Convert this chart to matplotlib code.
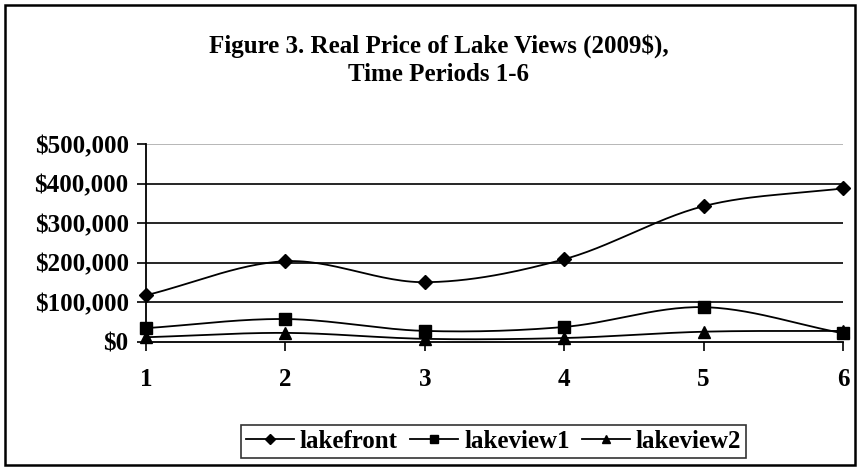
import numpy as np
import matplotlib
matplotlib.use("Agg")
import matplotlib.pyplot as plt
from matplotlib.patches import Rectangle
from matplotlib.ticker import FuncFormatter

plt.rcParams['font.family'] = ['Liberation Serif', 'DejaVu Serif']
plt.rcParams['font.weight'] = 'bold'

periods = [1, 2, 3, 4, 5, 6]
lakefront = [118000, 204000, 151000, 209000, 343000, 388000]
lakeview1 = [35000, 58000, 28000, 38000, 88000, 22000]
lakeview2 = [12000, 23000, 8000, 10000, 26000, 28000]
series_names = ["lakefront", "lakeview1", "lakeview2"]
markers = ["D", "s", "^"]
y_ticks = [0, 100000, 200000, 300000, 400000, 500000]


# smoothed line like a spreadsheet "smoothed line" option (Catmull-Rom)
def smooth(xs, ys, n=30):
    xs = np.asarray(xs, float)
    ys = np.asarray(ys, float)
    px = np.concatenate([[2 * xs[0] - xs[1]], xs, [2 * xs[-1] - xs[-2]]])
    py = np.concatenate([[2 * ys[0] - ys[1]], ys, [2 * ys[-1] - ys[-2]]])
    ox, oy = [], []
    for i in range(1, len(px) - 2):
        t = np.linspace(0, 1, n, endpoint=False)
        for p, out in ((px, ox), (py, oy)):
            p0, p1, p2, p3 = p[i - 1], p[i], p[i + 1], p[i + 2]
            out.extend(0.5 * (2 * p1 + (-p0 + p2) * t
                              + (2 * p0 - 5 * p1 + 4 * p2 - p3) * t ** 2
                              + (-p0 + 3 * p1 - 3 * p2 + p3) * t ** 3))
    ox.append(xs[-1])
    oy.append(ys[-1])
    return ox, oy


fig = plt.figure(figsize=(8.6, 4.67), dpi=100)
ax = fig.add_axes([146 / 860, 1 - 342 / 467, (843 - 146) / 860, (342 - 144) / 467])

for name, vals, m in zip(series_names, [lakefront, lakeview1, lakeview2], markers):
    sx, sy = smooth(periods, vals)
    ax.plot(sx, sy, color='black', lw=1.3, zorder=3)
    ms = 7 if m == "D" else 8
    ax.plot(periods, vals, linestyle='none', marker=m, color='black', ms=ms, zorder=4, clip_on=False)
    ax.plot([], [], color='black', lw=1.3, marker=m, ms=5.5, label=name)

ax.set_xlim(1, 6)
ax.set_ylim(0, 500000)
ax.set_xticks(periods)
ax.set_yticks(y_ticks)
ax.yaxis.set_major_formatter(FuncFormatter(lambda v, p: "${:,.0f}".format(v)))
for v in y_ticks[1:-1]:
    ax.axhline(v, color='black', lw=1.2, zorder=1)
ax.axhline(500000, color='#aaaaaa', lw=1.2, zorder=1)

for s in ['top', 'right']:
    ax.spines[s].set_visible(False)
for s in ['left', 'bottom']:
    ax.spines[s].set_linewidth(1.3)
ax.tick_params(axis='both', direction='out', length=6.5, width=1.2, labelsize=18)
ax.tick_params(axis='x', pad=12)
ax.tick_params(axis='y', pad=6)
for lab in ax.get_xticklabels() + ax.get_yticklabels():
    lab.set_fontweight('bold')

fig.text(0.51, 0.872, "Figure 3. Real Price of Lake Views (2009$),\nTime Periods 1-6",
         ha='center', va='center', fontsize=18, fontweight='bold', linespacing=1.3)

leg = fig.legend(loc='center', bbox_to_anchor=(0.574, 0.055), ncol=3, frameon=True,
                 fancybox=False, edgecolor='black', fontsize=18, handlelength=1.9,
                 handletextpad=0.25, columnspacing=0.5, borderpad=0.2, borderaxespad=0)
leg.get_frame().set_linewidth(1.2)
for t in leg.get_texts():
    t.set_fontweight('bold')

fig.patches.append(Rectangle((5 / 860, 2 / 467), 850 / 860, 460 / 467, transform=fig.transFigure,
                             fill=False, edgecolor='black', lw=1.8))

fig.savefig("out.png", dpi=100)
